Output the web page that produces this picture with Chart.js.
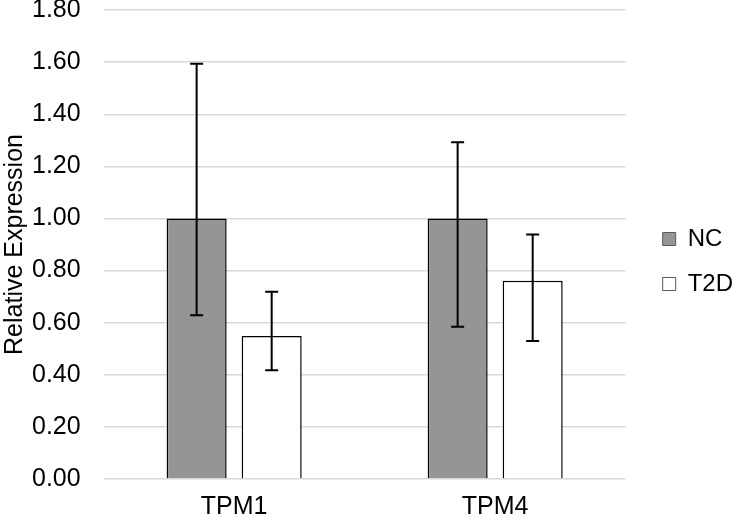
<!DOCTYPE html>
<html>
<head>
<meta charset="utf-8">
<script src="https://cdn.jsdelivr.net/npm/chart.js@4/dist/chart.umd.min.js"></script>
<style>
  html, body { margin: 0; padding: 0; background: #fff; }
  #wrap { width: 733px; height: 518px; }
</style>
</head>
<body>
<div id="wrap"><canvas id="relChart" width="733" height="518"></canvas></div>
<script>
const genes = ['TPM1', 'TPM4'];
const ncValues = [1.00, 1.00];
const ncHigh = [1.594, 1.292];
const ncLow = [0.628, 0.584];
const t2dValues = [0.549, 0.761];
const t2dHigh = [0.719, 0.938];
const t2dLow = [0.417, 0.530];
const yMax = 1.8;
const yStep = 0.2;

const fontFamily = '"Liberation Sans", Arial, sans-serif';

// draws the whisker for each bar using the bar's own position
const errorBars = {
    id: 'errorBars',
    afterDatasetsDraw(chart) {
        const ctx = chart.ctx;
        const y = chart.scales.y;
        chart.data.datasets.forEach((ds, i) => {
            const meta = chart.getDatasetMeta(i);
            meta.data.forEach((bar, j) => {
                const top = y.getPixelForValue(ds.errHigh[j]);
                const bottom = y.getPixelForValue(ds.errLow[j]);
                ctx.save();
                ctx.strokeStyle = '#000';
                ctx.lineWidth = 2;
                ctx.beginPath();
                ctx.moveTo(bar.x, top);
                ctx.lineTo(bar.x, bottom);
                ctx.moveTo(bar.x - 6.5, top);
                ctx.lineTo(bar.x + 6.5, top);
                ctx.moveTo(bar.x - 6.5, bottom);
                ctx.lineTo(bar.x + 6.5, bottom);
                ctx.stroke();
                ctx.restore();
            });
        });
    }
};

const ctx1 = document.getElementById('relChart').getContext('2d');
const relChart = new Chart(ctx1, {
    type: 'bar',
    data: {
        labels: genes,
        datasets: [{
            label: 'NC',
            data: ncValues,
            errHigh: ncHigh,
            errLow: ncLow,
            backgroundColor: '#959595',
            borderColor: '#000',
            borderWidth: 1.5
        }, {
            label: 'T2D',
            data: t2dValues,
            errHigh: t2dHigh,
            errLow: t2dLow,
            backgroundColor: '#fff',
            borderColor: '#000',
            borderWidth: 1.5
        }]
    },
    options: {
        responsive: false,
        animation: false,
        categoryPercentage: 0.575,
        barPercentage: 0.8,
        layout: { padding: { left: 0, right: -10, top: 5, bottom: 0 } },
        plugins: {
            legend: {
                position: 'right',
                labels: {
                    boxWidth: 13,
                    boxHeight: 13,
                    padding: 21,
                    color: '#000',
                    font: { family: fontFamily, size: 24 },
                    generateLabels(chart) {
                        return chart.data.datasets.map((ds, i) => ({
                            text: ds.label,
                            fillStyle: ds.backgroundColor,
                            strokeStyle: '#595959',
                            lineWidth: 1,
                            datasetIndex: i
                        }));
                    }
                }
            },
            tooltip: { enabled: false }
        },
        scales: {
            x: {
                grid: { display: false, tickLength: 18 },
                border: { display: false },
                ticks: {
                    color: '#000',
                    padding: 0,
                    font: { family: fontFamily, size: 25, lineHeight: 0.84 }
                }
            },
            y: {
                min: 0,
                max: yMax,
                border: { display: false },
                grid: { color: '#d9d9d9', lineWidth: 1.4, tickLength: 23, tickColor: 'rgba(0,0,0,0)' },
                ticks: {
                    stepSize: yStep,
                    color: '#000',
                    padding: 0,
                    font: { family: fontFamily, size: 25, lineHeight: 0.8 },
                    callback: v => v.toFixed(2)
                },
                title: {
                    display: true,
                    text: 'Relative Expression',
                    color: '#000',
                    padding: { top: 0, bottom: 2 },
                    font: { family: fontFamily, size: 25 }
                }
            },
            // empty right axis, only keeps the gap between plot and legend
            gap: {
                type: 'linear',
                position: 'right',
                display: true,
                grid: { display: false },
                border: { display: false },
                ticks: { display: false },
                afterFit(scale) { scale.width = 16; }
            }
        }
    },
    plugins: [errorBars]
});
</script>
</body>
</html>
